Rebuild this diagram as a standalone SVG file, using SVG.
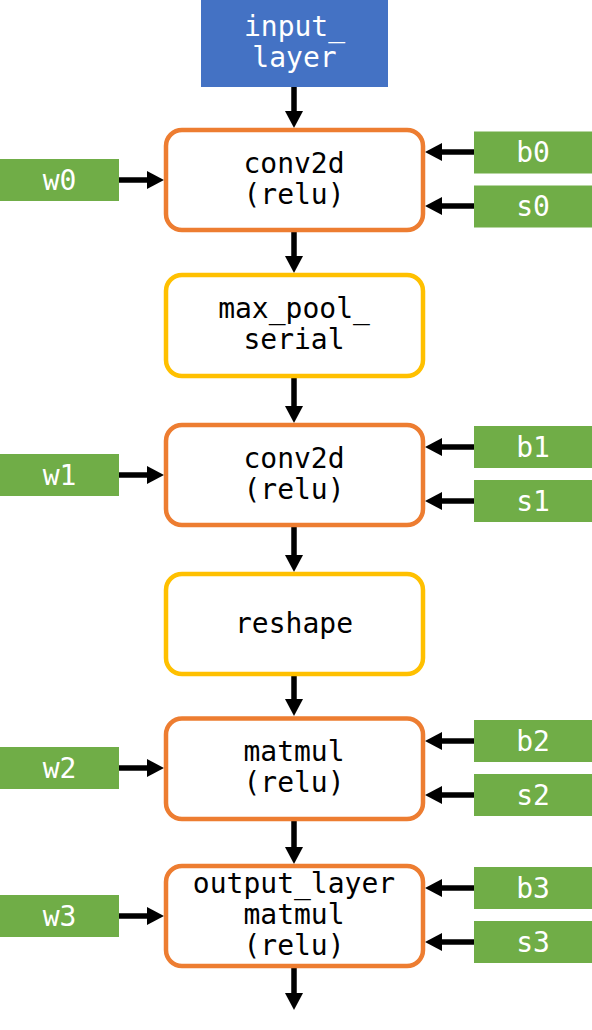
<svg xmlns="http://www.w3.org/2000/svg" width="592" height="1030" viewBox="0 0 592 1030">
<style>
.node{fill:#ffffff;stroke-width:4.5}
.op{stroke:#ED7D31}
.pool{stroke:#FFC000}
.param{fill:#70AD47}
.inp{fill:#4472C4}
text{font-family:"DejaVu Sans Mono","Liberation Mono",monospace;font-size:28px;text-anchor:middle}
.dark{fill:#000000}
.light{fill:#ffffff}
.conn line{stroke:#000000;stroke-width:5.5;marker-end:url(#ah)}
</style>
<defs>
<marker id="ah" markerUnits="userSpaceOnUse" viewBox="0 0 17 18" markerWidth="17" markerHeight="18" refX="2" refY="9" orient="auto">
<path d="M0,0 L17,9 L0,18 Z" fill="#000000"/>
</marker>
</defs>
<rect width="592" height="1030" fill="#ffffff"/>
<g class="conn" id="connectors">
<line x1="294" y1="87" x2="294" y2="113"/>
<line x1="294" y1="232" x2="294" y2="258"/>
<line x1="294" y1="378" x2="294" y2="408"/>
<line x1="294" y1="527" x2="294" y2="557"/>
<line x1="294" y1="676" x2="294" y2="701"/>
<line x1="294" y1="821" x2="294" y2="849"/>
<line x1="294" y1="968" x2="294" y2="995"/>
<line x1="119" y1="180" x2="149" y2="180"/>
<line x1="119" y1="475" x2="149" y2="475"/>
<line x1="119" y1="768" x2="149" y2="768"/>
<line x1="119" y1="916" x2="149" y2="916"/>
<line x1="474" y1="152" x2="440" y2="152"/>
<line x1="474" y1="206" x2="440" y2="206"/>
<line x1="474" y1="447" x2="440" y2="447"/>
<line x1="474" y1="501" x2="440" y2="501"/>
<line x1="474" y1="741" x2="440" y2="741"/>
<line x1="474" y1="795" x2="440" y2="795"/>
<line x1="474" y1="888" x2="440" y2="888"/>
<line x1="474" y1="942" x2="440" y2="942"/>
</g>
<g id="input_layer">
<rect class="inp" x="201" y="0" width="187" height="87"/>
<text class="light" x="294.5" y="35.5">input_</text>
<text class="light" x="294.5" y="66.5">layer</text>
</g>
<g id="conv2d_0">
<rect class="node op" x="166" y="130" width="257" height="100" rx="16"/>
<text class="dark" x="294" y="172.5">conv2d</text>
<text class="dark" x="294" y="203.5">(relu)</text>
</g>
<g id="max_pool_serial">
<rect class="node pool" x="166" y="275" width="257" height="101" rx="16"/>
<text class="dark" x="294" y="318">max_pool_</text>
<text class="dark" x="294" y="349">serial</text>
</g>
<g id="conv2d_1">
<rect class="node op" x="166" y="425" width="257" height="100" rx="16"/>
<text class="dark" x="294" y="467.5">conv2d</text>
<text class="dark" x="294" y="498.5">(relu)</text>
</g>
<g id="reshape">
<rect class="node pool" x="166" y="574" width="257" height="100" rx="16"/>
<text class="dark" x="294" y="632.5">reshape</text>
</g>
<g id="matmul">
<rect class="node op" x="166" y="718.5" width="257" height="100.5" rx="16"/>
<text class="dark" x="294" y="761">matmul</text>
<text class="dark" x="294" y="792">(relu)</text>
</g>
<g id="output_layer">
<rect class="node op" x="166" y="866" width="257" height="100" rx="16"/>
<text class="dark" x="294" y="892.5">output_layer</text>
<text class="dark" x="294" y="923.5">matmul</text>
<text class="dark" x="294" y="954.5">(relu)</text>
</g>
<g id="w0"><rect class="param" x="0" y="159" width="119" height="42"/><text class="light" x="59.5" y="189.5">w0</text></g>
<g id="w1"><rect class="param" x="0" y="454" width="119" height="42"/><text class="light" x="59.5" y="484.5">w1</text></g>
<g id="w2"><rect class="param" x="0" y="747" width="119" height="42"/><text class="light" x="59.5" y="777.5">w2</text></g>
<g id="w3"><rect class="param" x="0" y="895" width="119" height="42"/><text class="light" x="59.5" y="925.5">w3</text></g>
<g id="b0"><rect class="param" x="474" y="131.5" width="118" height="42"/><text class="light" x="533" y="162">b0</text></g>
<g id="s0"><rect class="param" x="474" y="185.5" width="118" height="42"/><text class="light" x="533" y="216">s0</text></g>
<g id="b1"><rect class="param" x="474" y="426" width="118" height="42"/><text class="light" x="533" y="456.5">b1</text></g>
<g id="s1"><rect class="param" x="474" y="480" width="118" height="42"/><text class="light" x="533" y="510.5">s1</text></g>
<g id="b2"><rect class="param" x="474" y="720" width="118" height="42"/><text class="light" x="533" y="750.5">b2</text></g>
<g id="s2"><rect class="param" x="474" y="774" width="118" height="42"/><text class="light" x="533" y="804.5">s2</text></g>
<g id="b3"><rect class="param" x="474" y="867" width="118" height="42"/><text class="light" x="533" y="897.5">b3</text></g>
<g id="s3"><rect class="param" x="474" y="921" width="118" height="42"/><text class="light" x="533" y="951.5">s3</text></g>
</svg>
